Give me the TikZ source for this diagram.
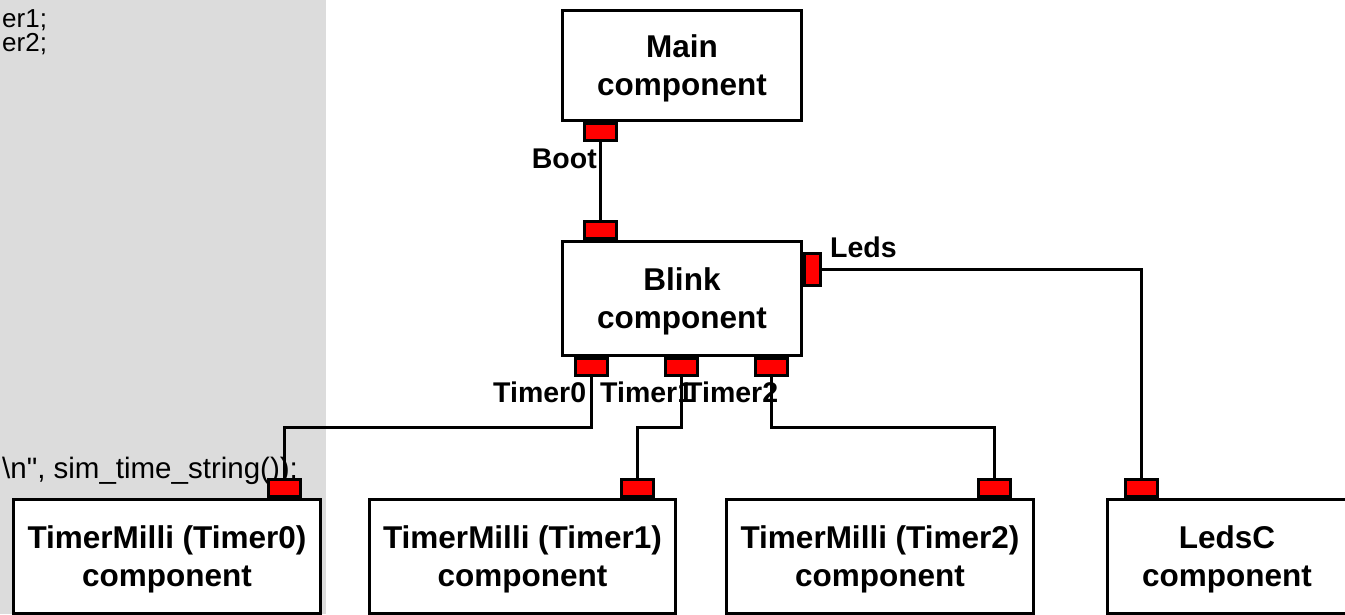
\documentclass[tikz,border=0pt]{standalone}
\usepackage{fontspec}
\setmainfont{Liberation Sans}
\usepackage{tikz}
\usetikzlibrary{calc,positioning}
\definecolor{panelGray}{RGB}{220,220,220}
\definecolor{portRed}{RGB}{255,0,0}
\tikzset{
  comp/.style={draw, line width=3pt, fill=white, align=center, inner sep=0pt, text depth=-3.4pt, minimum width=239pt, font=\bfseries\fontsize{31.5}{38}\selectfont},
  port/.style={draw, line width=3pt, fill=portRed, inner sep=0pt, minimum width=32pt, minimum height=17pt},
  vport/.style={port, minimum width=16pt, minimum height=32pt},
  plabel/.style={inner sep=0pt, font=\bfseries\fontsize{28.5}{34}\selectfont},
  code/.style={inner sep=0pt, font=\fontsize{26}{23.5}\selectfont},
  wire/.style={line width=3pt}
}

\begin{document}
\begin{tikzpicture}[x=1pt,y=-1pt]
\useasboundingbox (0,0) rectangle (1345,614);
\clip (0,0) rectangle (1345,614);
\fill[panelGray] (0,0) rectangle (326,614);
\node[code, align=left, anchor=base west] (codetop) at (2,51) {er1;\\er2;};
\node[code, font=\fontsize{29.5}{34}\selectfont, anchor=base west] (codebot) at (2,478) {\textbackslash n\textquotedbl, sim\_time\_string());};

\node[comp, minimum height=110pt] (mainbox) at (682,65.5) {Main\\component};
\node[comp, minimum height=114pt] (blinkbox) at (682,298.5) {Blink\\component};
\node[comp, minimum width=307pt, minimum height=113.5pt] (tzbox) at (167,556.25) {TimerMilli (Timer0)\\component};
\node[comp, minimum width=306pt, minimum height=113.5pt] (tobox) at (522.5,556.25) {TimerMilli (Timer1)\\component};
\node[comp, minimum width=307pt, minimum height=113.5pt] (ttbox) at (880,556.25) {TimerMilli (Timer2)\\component};
\node[comp, minimum height=113.5pt] (ledsbox) at (1227,556.25) {LedsC\\component};

\node[port, anchor=north] (bootout) at ([xshift=39.5pt]mainbox.south west) {};
\node[port, anchor=south] (bootin) at ([xshift=39.5pt]blinkbox.north west) {};
\node[vport, anchor=west] (ledsout) at ([yshift=-29.5pt]blinkbox.north east) {};
\node[port, anchor=north] (tzout) at ([xshift=30pt]blinkbox.south west) {};
\node[port, anchor=north] (toout) at ([xshift=120.5pt]blinkbox.south west) {};
\node[port, anchor=north] (ttout) at ([xshift=210.5pt]blinkbox.south west) {};
\node[port, anchor=south] (tzin) at ([xshift=272.5pt]tzbox.north west) {};
\node[port, anchor=south] (toin) at ([xshift=269pt]tobox.north west) {};
\node[port, anchor=south] (ttin) at ([xshift=269pt]ttbox.north west) {};
\node[port, anchor=south] (ledsin) at ([xshift=35.5pt]ledsbox.north west) {};

\node[plabel, anchor=base east] (bootlbl) at (597,168) {Boot};
\node[plabel, anchor=base west] (ledslbl) at (830,257) {Leds};
\node[plabel, anchor=base west] (tzlbl) at (493,402) {Timer0};
\node[plabel, anchor=base west] (tolbl) at (600,402) {Timer1};
\node[plabel, anchor=base west] (ttlbl) at (685,402) {Timer2};

\draw[wire] (bootout) -- (bootin);
\draw[wire] (ledsout.east) -| (ledsin.north);
\draw[wire] (tzout.south) -- (tzout.south |- 0,427) -| (tzin.north);
\draw[wire] (toout.south) -- (toout.south |- 0,427) -| (toin.north);
\draw[wire] (ttout.south) -- (ttout.south |- 0,427) -| (ttin.north);
\end{tikzpicture}
\end{document}
